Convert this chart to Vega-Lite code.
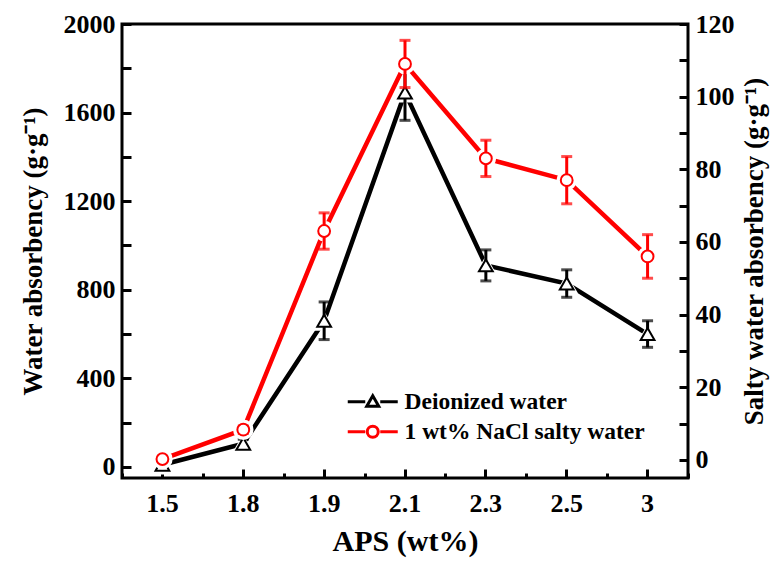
{
  "$schema": "https://vega.github.io/schema/vega-lite/v6.json",
  "width": 566,
  "height": 454,
  "autosize": "none",
  "padding": {"left": 122, "top": 24, "right": 86, "bottom": 83},
  "background": "white",
  "datasets": {
    "absorbency": [
      {"APS": "1.5", "series": "Deionized water", "value": 10, "err": 20},
      {"APS": "1.8", "series": "Deionized water", "value": 105, "err": 20},
      {"APS": "1.9", "series": "Deionized water", "value": 660, "err": 85},
      {"APS": "2.1", "series": "Deionized water", "value": 1690, "err": 125},
      {"APS": "2.3", "series": "Deionized water", "value": 910, "err": 70},
      {"APS": "2.5", "series": "Deionized water", "value": 828, "err": 62},
      {"APS": "3", "series": "Deionized water", "value": 600, "err": 60},
      {"APS": "1.5", "series": "1 wt% NaCl salty water", "value": 0.2, "err": 0.5},
      {"APS": "1.8", "series": "1 wt% NaCl salty water", "value": 8.3, "err": 1},
      {"APS": "1.9", "series": "1 wt% NaCl salty water", "value": 63, "err": 5},
      {"APS": "2.1", "series": "1 wt% NaCl salty water", "value": 109, "err": 6.5},
      {"APS": "2.3", "series": "1 wt% NaCl salty water", "value": 83, "err": 5},
      {"APS": "2.5", "series": "1 wt% NaCl salty water", "value": 77, "err": 6.5},
      {"APS": "3", "series": "1 wt% NaCl salty water", "value": 56, "err": 6}
    ]
  },
  "data": {"name": "absorbency"},
  "layer": [
    {
      "transform": [{"filter": "datum.series === 'Deionized water'"}],
      "encoding": {
        "x": {
          "field": "APS",
          "type": "ordinal",
          "sort": ["1.5", "1.8", "1.9", "2.1", "2.3", "2.5", "3"],
          "scale": {"type": "band", "paddingInner": 0, "paddingOuter": 0},
          "axis": {
            "orient": "bottom",
            "title": "APS (wt%)",
            "titleFontSize": 30,
            "labelAngle": 0,
            "tickBand": "center",
            "tickSize": 9,
            "offset": -9,
            "labelPadding": 12,
            "titlePadding": 10
          }
        },
        "y": {
          "field": "value",
          "type": "quantitative",
          "scale": {"domain": [-50, 2000], "nice": false, "zero": false},
          "axis": {
            "orient": "left",
            "title": "Water absorbency (g·g⁻¹)",
            "values": [0, 200, 400, 600, 800, 1000, 1200, 1400, 1600, 1800, 2000],
            "labelExpr": "datum.value % 400 === 0 ? datum.label : ''",
            "format": "d",
            "tickSize": 9,
            "offset": -9,
            "labelPadding": 7,
            "titlePadding": 16
          }
        }
      },
      "layer": [
        {"mark": {"type": "line", "color": "black", "strokeWidth": 4.5}},
        {"mark": {"type": "point", "shape": "triangle-up", "filled": true, "color": "white", "size": 520, "opacity": 1}},
        {
          "mark": {"type": "errorbar", "color": "black", "thickness": 3, "ticks": {"size": 11, "thickness": 3, "color": "black"}},
          "encoding": {
            "y": {"field": "value", "type": "quantitative"},
            "yError": {"field": "err"}
          }
        },
        {
          "mark": {"type": "point", "shape": "triangle-up", "filled": false, "fill": "white", "size": 190, "strokeWidth": 2, "opacity": 1},
          "encoding": {
            "color": {
              "field": "series",
              "type": "nominal",
              "scale": {"domain": ["Deionized water"], "range": ["black"]},
              "legend": {
                "orient": "none",
                "legendX": 239,
                "legendY": 366,
                "symbolType": "M-2.5,0H-0.75M0.75,0H2.5M-0.6,0.45L0,-0.6L0.6,0.45Z"
              }
            }
          }
        }
      ]
    },
    {
      "transform": [{"filter": "datum.series === '1 wt% NaCl salty water'"}],
      "encoding": {
        "x": {
          "field": "APS",
          "type": "ordinal",
          "sort": ["1.5", "1.8", "1.9", "2.1", "2.3", "2.5", "3"],
          "scale": {"type": "band", "paddingInner": 0, "paddingOuter": 0},
          "axis": {
            "orient": "bottom",
            "title": null,
            "labels": false,
            "tickBand": "extent",
            "tickSize": 5,
            "offset": -5
          }
        },
        "y": {
          "field": "value",
          "type": "quantitative",
          "scale": {"domain": [-5, 120], "nice": false, "zero": false},
          "axis": {
            "orient": "right",
            "title": "Salty water absorbency (g·g⁻¹)",
            "titleAngle": 270,
            "values": [0, 10, 20, 30, 40, 50, 60, 70, 80, 90, 100, 110, 120],
            "labelExpr": "datum.value % 20 === 0 ? datum.label : ''",
            "format": "d",
            "tickSize": 9,
            "offset": -9,
            "labelPadding": 7,
            "titlePadding": 34
          }
        }
      },
      "layer": [
        {"mark": {"type": "line", "color": "#ff0000", "strokeWidth": 4.5}},
        {"mark": {"type": "point", "shape": "circle", "filled": true, "color": "white", "size": 420, "opacity": 1}},
        {
          "mark": {"type": "errorbar", "color": "#ff0000", "thickness": 3, "ticks": {"size": 11, "thickness": 3, "color": "#ff0000"}},
          "encoding": {
            "y": {"field": "value", "type": "quantitative"},
            "yError": {"field": "err"}
          }
        },
        {
          "mark": {"type": "point", "shape": "circle", "filled": false, "fill": "white", "size": 140, "strokeWidth": 2, "opacity": 1},
          "encoding": {
            "color": {
              "field": "series",
              "type": "nominal",
              "scale": {"domain": ["1 wt% NaCl salty water"], "range": ["#ff0000"]},
              "legend": {
                "orient": "none",
                "legendX": 239,
                "legendY": 396,
                "symbolType": "M-2.5,0H-0.75M0.75,0H2.5M0.55,0A0.55,0.55 0 1 1 -0.55,0A0.55,0.55 0 1 1 0.55,0Z"
              }
            }
          }
        }
      ]
    }
  ],
  "resolve": {
    "scale": {"y": "independent", "color": "independent"},
    "axis": {"x": "independent"},
    "legend": {"color": "independent"}
  },
  "config": {
    "view": {"stroke": "black", "strokeWidth": 3},
    "font": "Times New Roman, Liberation Serif, serif",
    "axis": {
      "domain": false,
      "grid": false,
      "ticks": true,
      "tickWidth": 3,
      "tickColor": "black",
      "tickOpacity": 1,
      "labelFont": "Times New Roman, Liberation Serif, serif",
      "labelFontWeight": "bold",
      "labelFontSize": 26,
      "labelColor": "black",
      "titleFont": "Times New Roman, Liberation Serif, serif",
      "titleFontWeight": "bold",
      "titleFontSize": 27,
      "titleColor": "black"
    },
    "legend": {
      "title": null,
      "labelFont": "Times New Roman, Liberation Serif, serif",
      "labelFontWeight": "bold",
      "labelFontSize": 23.5,
      "labelColor": "black",
      "labelLimit": 400,
      "labelOffset": 20,
      "symbolSize": 400,
      "symbolStrokeWidth": 3,
      "symbolFillColor": "white",
      "symbolOpacity": 1
    }
  }
}
